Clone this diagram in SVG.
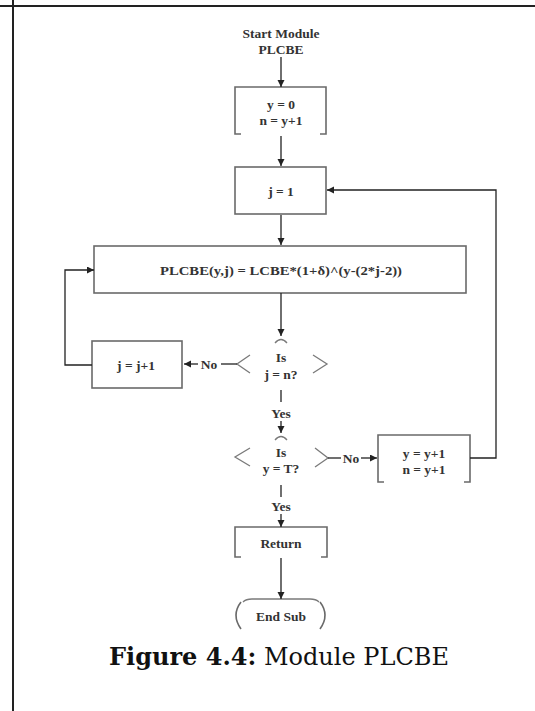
<svg xmlns="http://www.w3.org/2000/svg" width="535" height="711" viewBox="0 0 535 711">
<defs>
<marker id="ah" markerUnits="userSpaceOnUse" markerWidth="8" markerHeight="8" refX="7" refY="3.5" orient="auto">
<path d="M0,0 L7,3.5 L0,7 z" fill="#222"/>
</marker>
</defs>
<style>
.frame{stroke:#222;stroke-width:2;fill:none}
.box{stroke:#6a6a6a;stroke-width:1.6;fill:none}
.dec{stroke:#7a7a7a;stroke-width:1.3;fill:none}
.con{stroke:#222;stroke-width:1.3;fill:none}
.t{font-family:"Liberation Serif","Times New Roman",serif;font-size:13.5px;font-weight:bold;fill:#333;text-anchor:middle}
.cap{font-family:"DejaVu Serif",serif;font-size:24px;fill:#111;text-anchor:middle}
</style>
<rect width="535" height="711" fill="#fff"/>
<g id="frame">
<line class="frame" x1="0" y1="6" x2="535" y2="6"/>
<line class="frame" x1="13" y1="0" x2="13" y2="711"/>
</g>
<g id="start">
<text class="t" x="281" y="38">Start Module</text>
<text class="t" x="281" y="54">PLCBE</text>
</g>
<g id="init">
<path class="box" d="M241,134 L235,134 L235,87 L326,87 L326,134 L320,134"/>
<text class="t" x="281" y="109">y = 0</text>
<text class="t" x="281" y="125">n = y+1</text>
</g>
<g id="j1">
<rect class="box" x="235" y="167" width="91" height="47"/>
<text class="t" x="281" y="196">j = 1</text>
</g>
<g id="calc">
<rect class="box" x="94" y="246" width="372" height="47"/>
<text class="t" x="281" y="275" textLength="242" lengthAdjust="spacingAndGlyphs">PLCBE(y,j) = LCBE*(1+δ)^(y-(2*j-2))</text>
</g>
<g id="incj">
<rect class="box" x="92" y="341" width="90" height="47"/>
<text class="t" x="136" y="370">j = j+1</text>
</g>
<g id="dec1">
<path class="dec" d="M275,343 Q281,336 287,343"/>
<path class="dec" d="M250,355 L237,364 L250,373"/>
<path class="dec" d="M313,355 L327,364 L313,373"/>
<text class="t" x="281" y="362">Is</text>
<text class="t" x="281" y="379">j = n?</text>
</g>
<g id="dec2">
<path class="dec" d="M275,440 Q281,433 287,440"/>
<path class="dec" d="M250,448 L235,457 L250,466"/>
<path class="dec" d="M315,448 L328,458 L315,467"/>
<text class="t" x="281" y="457">Is</text>
<text class="t" x="281" y="473">y = T?</text>
</g>
<g id="incy">
<path class="box" d="M384,482 L378,482 L378,435 L470,435 L470,482 L464,482"/>
<text class="t" x="424" y="458">y = y+1</text>
<text class="t" x="424" y="474">n = y+1</text>
</g>
<g id="ret">
<path class="box" d="M241,557 L235,557 L235,527 L327,527 L327,557 L321,557"/>
<text class="t" x="281" y="548">Return</text>
</g>
<g id="end">
<path class="dec" d="M243,602 Q246,599 252,599 L310,599 Q316,599 319,602"/>
<path class="box" d="M241,602 Q231,615 241,629"/>
<path class="box" d="M320,602 Q330,615 320,629"/>
<text class="t" x="281" y="621">End Sub</text>
</g>
<g id="connectors">
<path class="con" d="M281,57 L281,87" marker-end="url(#ah)"/>
<path class="con" d="M281,136 L281,166" marker-end="url(#ah)"/>
<path class="con" d="M281,215 L281,245" marker-end="url(#ah)"/>
<path class="con" d="M281,293 L281,336" marker-end="url(#ah)"/>
<path class="con" d="M237,364 L221,364"/>
<path class="con" d="M198,364 L184,364" marker-end="url(#ah)"/>
<text class="t" x="209" y="369">No</text>
<path class="con" d="M92,365 L65,365 L65,270 L94,270" marker-end="url(#ah)"/>
<path class="con" d="M281,390 L281,402"/>
<text class="t" x="281" y="418">Yes</text>
<path class="con" d="M281,421 L281,433" marker-end="url(#ah)"/>
<path class="con" d="M328,458 L341,458"/>
<text class="t" x="351" y="463">No</text>
<path class="con" d="M361,458 L377,458" marker-end="url(#ah)"/>
<path class="con" d="M470,458 L496,458 L496,190 L327,190" marker-end="url(#ah)"/>
<path class="con" d="M281,485 L281,497"/>
<text class="t" x="281" y="511">Yes</text>
<path class="con" d="M281,514 L281,527" marker-end="url(#ah)"/>
<path class="con" d="M281,558 L281,599" marker-end="url(#ah)"/>
</g>
<g id="caption">
<text class="cap" x="279" y="665"><tspan font-weight="bold">Figure 4.4:</tspan> Module PLCBE</text>
</g>
</svg>
